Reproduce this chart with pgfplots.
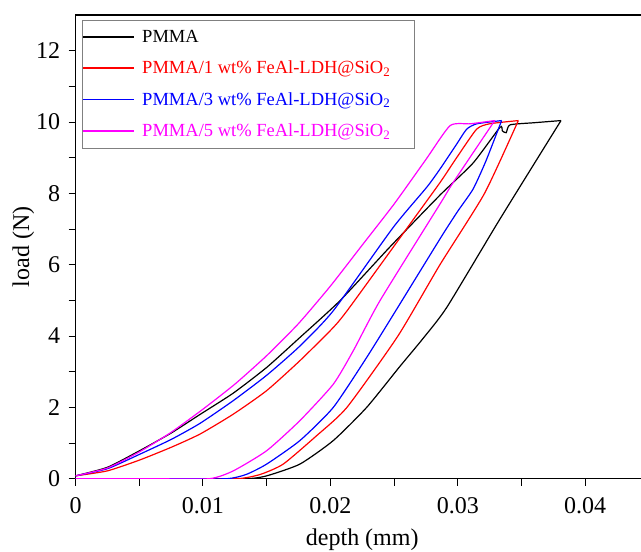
\documentclass[border=0pt]{standalone}
\usepackage{pgfplots}
\pgfplotsset{compat=1.18}
\usepackage{fontspec}
\setmainfont{Liberation Serif}
\newfontfamily\redfont[Color=FF0000]{Liberation Serif}
\newfontfamily\bluefont[Color=0000FF]{Liberation Serif}
\newfontfamily\magfont[Color=FF00FF]{Liberation Serif}
\definecolor{cred}{rgb}{1,0,0}
\definecolor{cblue}{rgb}{0,0,1}
\definecolor{cmag}{rgb}{1,0,1}
\begin{document}
\begin{tikzpicture}
\begin{axis}[
  scale only axis,
  width=573.3pt, height=463.7pt,
  xmin=0, xmax=0.045, ymin=0, ymax=13,
  scaled x ticks=false,
  xtick={0,0.01,0.02,0.03,0.04},
  xticklabels={0,0.01,0.02,0.03,0.04},
  ytick={0,2,4,6,8,10,12},
  minor x tick num=1, minor y tick num=1,
  xtick pos=bottom, ytick pos=left,
  tick align=outside,
  major tick length=7pt, minor tick length=7pt,
  tick style={line width=1pt, black},
  axis line style={line width=1.2pt, black},
  /pgf/number format/assume math mode=true,
  tick label style={font=\fontsize{24}{28}\selectfont},
  label style={font=\fontsize{24}{28}\selectfont},
  xticklabel style={yshift=-8pt},
  yticklabel style={xshift=-5pt},
  xlabel={depth (mm)}, ylabel={load (N)},
  xlabel style={yshift=-8pt},
  ylabel style={yshift=-5pt},
  legend cell align=left,
  legend style={at={(0.0112,0.9895)}, anchor=north west, draw=gray, line width=0.8pt,
    inner xsep=0pt, inner ysep=8pt, row sep=13pt,
    font=\fontsize{18.5}{21}\selectfont,
    /tikz/every odd column/.append style={column sep=5pt}},
  legend image code/.code={\draw[#1, line width=1.8pt] (0pt,0pt) -- (51pt,0pt);},
  every axis plot/.append style={line width=1.2pt, smooth, tension=0.35},
]
\coordinate (SW) at (rel axis cs:0,0);
% PMMA
\addplot[black] coordinates {
(0,0.08)(0.0025,0.32)(0.005,0.78)(0.0075,1.28)(0.00976,1.8)(0.01238,2.4)(0.015,3.12)(0.01761,3.96)(0.02075,4.99)(0.02468,6.5)(0.0286,7.95)(0.0312,8.85)(0.03331,9.85)(0.0335,9.75)(0.0338,9.7)(0.0341,9.92)(0.036,9.98)(0.0381,10.04)
};
\addlegendentry{PMMA}
\addplot[black, forget plot] coordinates {
(0.0381,10.04)(0.03331,7.28)(0.02913,4.8)(0.0272,3.9)(0.02546,3.15)(0.02285,2.0)(0.02023,1.07)(0.01761,0.41)(0.015,0.08)(0.0134,0)(0.008,0)(0,0)
};
% 1 wt%
\addplot[cred] coordinates {
(0,0.08)(0.0025,0.22)(0.005,0.52)(0.0075,0.88)(0.00976,1.25)(0.01238,1.81)(0.015,2.47)(0.01761,3.31)(0.02023,4.24)(0.0215,4.8)(0.02625,7.14)(0.0286,8.3)(0.02991,9.0)(0.03148,9.8)(0.0325,9.95)(0.03475,10.04)
};
\addlegendentry{\redfont PMMA/1 wt\% FeAl-LDH@SiO\textsubscript{2}\hspace*{22pt}}
\addplot[cred, forget plot] coordinates {
(0.03475,10.04)(0.0321,8.0)(0.0286,6.0)(0.0253,4.0)(0.0213,2.0)(0.0189,1.2)(0.0163,0.41)(0.0145,0.12)(0.0127,0)(0.008,0)(0,0)
};
% 3 wt%
\addplot[cblue] coordinates {
(0,0.08)(0.0025,0.28)(0.005,0.68)(0.0075,1.1)(0.00976,1.55)(0.01238,2.19)(0.015,2.9)(0.01761,3.72)(0.02023,4.71)(0.02494,7.05)(0.02756,8.17)(0.0286,8.68)(0.02991,9.38)(0.0307,9.8)(0.0315,9.95)(0.03344,10.04)
};
\addlegendentry{\bluefont PMMA/3 wt\% FeAl-LDH@SiO\textsubscript{2}}
\addplot[cblue, forget plot] coordinates {
(0.03344,10.04)(0.0322,8.9)(0.0312,8.12)(0.03,7.5)(0.0287,6.78)(0.0252,4.75)(0.02285,3.4)(0.02023,2.0)(0.01761,1.07)(0.015,0.41)(0.0134,0.12)(0.0119,0)(0.008,0)(0,0)
};
% 5 wt%
\addplot[cmag] coordinates {
(0,0.08)(0.0025,0.3)(0.005,0.75)(0.0075,1.3)(0.01,1.95)(0.0125,2.65)(0.015,3.45)(0.0175,4.35)(0.02,5.4)(0.0225,6.55)(0.025,7.7)(0.0275,8.95)(0.0294,9.9)(0.031,9.95)(0.0329,10.04)
};
\addlegendentry{\magfont PMMA/5 wt\% FeAl-LDH@SiO\textsubscript{2}}
\addplot[cmag, forget plot] coordinates {
(0.0329,10.04)(0.02965,8.31)(0.0286,7.7)(0.02389,4.99)(0.0218,3.59)(0.02023,2.65)(0.01761,1.63)(0.015,0.785)(0.01238,0.22)(0.0105,0)(0.006,0)(0,0)
};
\end{axis}
\pgfresetboundingbox
\path ([shift={(-75.6pt,-73pt)}]SW) rectangle ([shift={(565.4pt,478.7pt)}]SW);
\end{tikzpicture}
\end{document}
